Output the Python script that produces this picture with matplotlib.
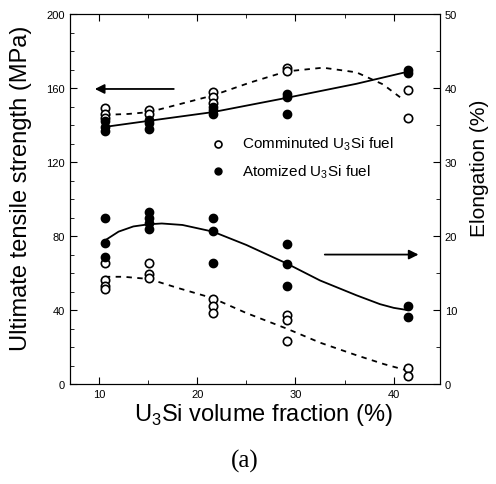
import matplotlib
matplotlib.use("Agg")
import matplotlib.pyplot as plt
from matplotlib.ticker import MultipleLocator

plt.rcParams['font.family'] = ['Liberation Sans', 'DejaVu Sans']
plt.rcParams['mathtext.fontset'] = 'custom'
plt.rcParams['mathtext.rm'] = 'Liberation Sans'

# ---- data (UTS, MPa) ----
uts_com_x = [10.6, 10.6, 10.6, 15.1, 15.1, 21.6, 21.6, 21.6, 29.1, 29.1, 41.4, 41.4]
uts_com_y = [149, 146, 144, 148, 146, 158, 155, 152, 171, 169, 159, 144]
uts_ato_x = [10.6, 10.6, 10.6, 15.1, 15.1, 15.1, 21.6, 21.6, 21.6, 29.1, 29.1, 29.1, 41.4, 41.4]
uts_ato_y = [142, 139, 137, 143, 141, 138, 150, 148, 146, 157, 155, 146, 170, 168]

# fitted trend curves
uts_com_curve_x = [10.6, 13.0, 15.1, 18.0, 21.6, 25.4, 29.1, 32.8, 36.2, 38.9, 40.9]
uts_com_curve_y = [145.5, 146.0, 147.0, 151.0, 156.0, 163.0, 169.0, 171.0, 168.5, 162.0, 154.0]
uts_ato_curve_x = [10.6, 15.1, 21.6, 29.1, 36.2, 41.4]
uts_ato_curve_y = [139.0, 142.3, 147.0, 154.7, 162.3, 168.8]

# ---- data (elongation, %) ----
el_com_x = [10.6, 10.6, 10.6, 10.6, 15.1, 15.1, 15.1, 21.6, 21.6, 21.6, 29.1, 29.1, 29.1, 41.4, 41.4]
el_com_y = [16.3, 14.0, 13.3, 12.8, 16.4, 14.9, 14.3, 11.5, 10.5, 9.6, 9.3, 8.6, 5.8, 2.2, 1.1]
el_ato_x = [10.6, 10.6, 10.6, 15.1, 15.1, 15.1, 15.1, 21.6, 21.6, 21.6, 29.1, 29.1, 29.1, 41.4, 41.4]
el_ato_y = [22.5, 19.1, 17.2, 23.2, 22.5, 21.8, 21.0, 22.5, 20.7, 16.3, 18.9, 16.2, 13.3, 10.6, 9.0]

el_ato_curve_x = [10.6, 12.0, 13.5, 15.1, 16.4, 18.5, 21.6, 25.0, 29.1, 32.5, 36.2, 38.6, 40.0, 41.4]
el_ato_curve_y = [19.4, 20.6, 21.3, 21.6, 21.7, 21.5, 20.6, 18.8, 16.3, 14.0, 12.0, 10.8, 10.3, 10.0]
el_com_curve_x = [10.6, 12.5, 15.1, 18.0, 21.6, 25.0, 29.1, 32.5, 36.2, 39.0, 41.2]
el_com_curve_y = [14.5, 14.5, 14.2, 13.0, 11.6, 9.6, 7.5, 5.6, 3.9, 2.7, 1.9]

xticks = [10, 20, 30, 40]
uts_ticks = [0, 40, 80, 120, 160, 200]
el_ticks = [0, 10, 20, 30, 40, 50]

fig = plt.figure(figsize=(4.96, 4.85), dpi=100)
ax = fig.add_axes([0.141, 0.206, 0.746, 0.763])
ax2 = ax.twinx()

ms = 6
ax.plot(uts_com_x, uts_com_y, 'o', mfc='white', mec='black', mew=1.2, ms=ms, zorder=3)
ax.plot(uts_ato_x, uts_ato_y, 'o', mfc='black', mec='black', ms=ms, zorder=3)
ax.plot(uts_com_curve_x, uts_com_curve_y, '--', color='black', lw=1.3, dashes=(3, 3))
ax.plot(uts_ato_curve_x, uts_ato_curve_y, '-', color='black', lw=1.3)

ax2.plot(el_com_x, el_com_y, 'o', mfc='white', mec='black', mew=1.2, ms=ms, zorder=3)
ax2.plot(el_ato_x, el_ato_y, 'o', mfc='black', mec='black', ms=ms, zorder=3)
ax2.plot(el_com_curve_x, el_com_curve_y, '--', color='black', lw=1.3, dashes=(3, 3))
ax2.plot(el_ato_curve_x, el_ato_curve_y, '-', color='black', lw=1.3)

ax.set_xlim(7.05, 44.7)
ax.set_ylim(0, 200)
ax2.set_ylim(0, 50)

ax.set_xticks(xticks)
ax.xaxis.set_minor_locator(MultipleLocator(5))
ax.set_yticks(uts_ticks)
ax.yaxis.set_minor_locator(MultipleLocator(10))
ax2.set_yticks(el_ticks)
ax2.yaxis.set_minor_locator(MultipleLocator(5))

ax.tick_params(axis='both', which='both', direction='in', labelsize=8)
ax.tick_params(axis='x', which='both', top=True)
ax.tick_params(which='major', length=5)
ax.tick_params(which='minor', length=3)
ax2.tick_params(which='both', direction='in', labelsize=8)
ax2.tick_params(which='major', length=5)
ax2.tick_params(which='minor', length=3)

ax.set_xlabel('U$_3$Si volume fraction (%)', fontsize=17)
ax.set_ylabel('Ultimate tensile strength (MPa)', fontsize=17)
ax2.set_ylabel('Elongation (%)', fontsize=15)
ax.xaxis.set_label_coords(0.524, -0.045)
ax.yaxis.set_label_coords(-0.103, 0.532)
ax2.yaxis.set_label_coords(1.082, 0.586)

# arrows
ax.annotate('', xy=(9.3, 159.5), xytext=(17.9, 159.5),
            arrowprops=dict(arrowstyle='-|>', color='black', lw=1.3, mutation_scale=14))
ax.annotate('', xy=(42.8, 70), xytext=(32.7, 70),
            arrowprops=dict(arrowstyle='-|>', color='black', lw=1.3, mutation_scale=14))

# legend
ax.plot([22.1], [130], 'o', mfc='white', mec='black', mew=1.2, ms=5)
ax.plot([22.1], [115], 'o', mfc='black', mec='black', ms=5)
ax.text(24.6, 130, 'Comminuted U$_3$Si fuel', fontsize=11, va='center', ha='left')
ax.text(24.6, 115, 'Atomized U$_3$Si fuel', fontsize=11, va='center', ha='left')

fig.text(0.494, 0.048, '(a)', fontsize=18, family='Liberation Serif', ha='center', va='center')

fig.savefig('out.png', dpi=100)
